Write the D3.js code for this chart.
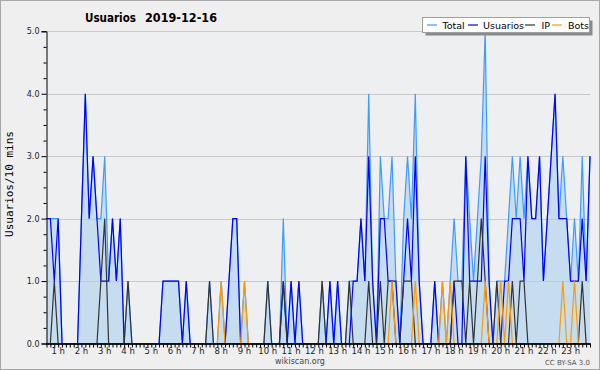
<!DOCTYPE html>
<html><head><meta charset="utf-8">
<script src="https://cdn.jsdelivr.net/npm/d3@7/dist/d3.min.js"></script>
<style>body{margin:0;background:#efefef;overflow:hidden}</style>
</head><body>
<svg id="c" width="600" height="370"></svg>
<script>
// 10-minute slots, 00:30 .. 23:50 (minutes of the day)
const minutes = d3.range(30, 1431, 10);

const total = [2,2,2,2,0,0,0,0,0,2, 4,2,3,2,2,3,1,2,1,2, 0,1,0,0,0,0,0,0,0,0,
  1,1,1,1,1,0,1,0,0,0, 0,0,1,0,0,1,0,1,2,2, 0,1,0,0,0,0,0,1,0,0,
  0,2,0,1,0,1,0,0,0,0, 0,1,0,1,0,1,0,0,1,1, 1,2,1,4,1,0,3,2,2,3,
  1,0,2,3,2,4,1,0,0,0, 1,0,1,0,1,2,1,1,3,2, 1,2,3,5,1,0,1,1,1,2,
  3,2,3,2,3,2,2,3,1,2, 3,4,2,3,2,1,2,1,3,1, 3];
const usuarios = [2,2,1,2,0,0,0,0,0,2, 4,2,3,2,1,1,1,2,1,2, 0,0,0,0,0,0,0,0,0,0,
  1,1,1,1,1,0,1,0,0,0, 0,0,0,0,0,0,0,1,2,2, 0,0,0,0,0,0,0,0,0,0,
  0,1,0,1,0,1,0,0,0,0, 0,0,0,1,0,1,0,0,0,1, 1,2,1,3,1,0,2,2,1,1,
  1,0,1,2,1,3,1,0,0,0, 1,0,0,0,0,1,0,0,3,1, 1,1,1,3,1,0,0,0,1,1,
  2,2,2,1,3,2,2,3,1,2, 3,4,2,2,2,1,1,1,2,1, 3];
const ip = [0,0,1,0,0,0,0,0,0,0, 0,0,0,0,1,2,0,0,0,0, 0,1,0,0,0,0,0,0,0,0,
  0,0,0,0,0,0,0,0,0,0, 0,0,1,0,0,0,0,0,0,0, 0,0,0,0,0,0,0,1,0,0,
  0,1,0,0,0,0,0,0,0,0, 0,1,0,0,0,0,0,0,1,0, 0,0,0,1,0,0,1,0,1,1,
  0,0,1,1,1,0,0,0,0,0, 0,0,0,0,0,1,1,1,0,1, 0,1,2,1,0,0,1,0,0,0,
  1,0,1,1,0,0,0,0,0,0, 0,0,0,0,0,0,0,0,1,0, 0];
const bots = [0,0,0,0,0,0,0,0,0,0, 0,0,0,0,0,0,0,0,0,0, 0,0,0,0,0,0,0,0,0,0,
  0,0,0,0,0,0,0,0,0,0, 0,0,0,0,0,1,0,0,0,0, 0,1,0,0,0,0,0,0,0,0,
  0,0,0,0,0,0,0,0,0,0, 0,0,0,0,0,0,0,0,0,0, 0,0,0,0,0,0,0,0,0,1,
  0,0,0,0,0,1,0,0,0,0, 0,0,1,0,1,0,0,0,0,0, 0,0,0,1,0,0,0,1,0,1,
  0,0,0,0,0,0,0,0,0,0, 0,0,0,1,0,0,1,0,0,0, 0];

const hourTicks = [60,120,180,240,300,360,420,480,540,600,660,720,780,840,900,960,1020,1080,1140,1200,1260,1320,1380];
const hourLabels = ["1 h","2 h","3 h","4 h","5 h","6 h","7 h","8 h","9 h","10 h","11 h","12 h","13 h","14 h","15 h","16 h","17 h","18 h","19 h","20 h","21 h","22 h","23 h"];
const yTicks = [0,1,2,3,4,5];
const seriesNames = ["Total","Usuarios","IP","Bots"];
const seriesColors = ["#3d9cff","#0000ff","#333333","#ff9900"];

const svg = d3.select("#c");
const x = d3.scaleLinear().domain([30, 1430]).range([46.5, 590]);
const y = d3.scaleLinear().domain([0, 5]).range([343.5, 31.3]);

svg.append("rect").attr("x",0.5).attr("y",0.5).attr("width",599).attr("height",369)
  .attr("fill","#efefef").attr("stroke","#a8a8a8");
svg.append("rect").attr("x",46.5).attr("y",31.3).attr("width",543.5).attr("height",312.2)
  .attr("fill","#eeeff1");

// area
const area = d3.area().x((d,i)=>x(minutes[i])).y0(y(0)).y1(d=>y(d));
svg.append("path").datum(total).attr("d", area).attr("fill","#c6ddf0");

// grid
svg.append("g").selectAll("line").data(yTicks.filter(v=>v>0)).join("line")
  .attr("x1",46.5).attr("x2",590).attr("y1",d=>Math.round(y(d))+0.5).attr("y2",d=>Math.round(y(d))+0.5)
  .attr("stroke","#c9c9c9").attr("stroke-width",1);

// lines
const line = d3.line().x((d,i)=>x(minutes[i])).y(d=>y(d));
[total, usuarios, ip, bots].forEach((s,j)=>{
  svg.append("path").datum(s).attr("d", line).attr("fill","none")
    .attr("stroke", seriesColors[j]).attr("stroke-width",1.2).attr("stroke-linejoin","miter");
});

// y axis
const yAxis = d3.axisLeft(y).tickValues(yTicks).tickFormat(d3.format(".1f")).tickSize(5).tickPadding(2);
const gy = svg.append("g").attr("transform","translate(46.5,0)").call(yAxis);
gy.select(".domain").attr("stroke","#000");
gy.selectAll("text").attr("font-family","DejaVu Sans").attr("font-size",8).attr("fill","#222");
const yMinor = d3.axisLeft(y).tickValues(d3.range(0,5.01,0.25).filter(v=>v%1!==0)).tickSize(3).tickFormat("");
const gym = svg.append("g").attr("transform","translate(46.5,0)").call(yMinor);
gym.select(".domain").remove();

// x axis ticks per slot
const xAxis = d3.axisBottom(x).tickValues(minutes).tickSize(4).tickFormat("");
const gx = svg.append("g").attr("transform","translate(0,343.5)").call(xAxis);
gx.select(".domain").attr("stroke","#000").attr("d","M46.5,0.5H590.5");
svg.append("line").attr("x1",46).attr("x2",590.5).attr("y1",344).attr("y2",344).attr("stroke","#000").attr("stroke-width",1.5);
svg.append("g").selectAll("text").data(hourTicks).join("text")
  .attr("x",d=>x(d)).attr("y",354).attr("text-anchor","middle")
  .attr("font-family","DejaVu Sans").attr("font-size",8.5).attr("fill","#222")
  .text((d,i)=>hourLabels[i]);

// y label
svg.append("text").attr("transform","translate(13,184) rotate(-90)").attr("text-anchor","middle")
  .attr("font-family","DejaVu Sans Mono").attr("font-size",11).attr("fill","#000").text("Usuarios/10 mins");

// title
svg.append("text").attr("x",85).attr("y",21.5).attr("font-family","DejaVu Sans").attr("font-weight","bold")
  .attr("font-size",12).attr("fill","#000").attr("textLength",51).attr("lengthAdjust","spacingAndGlyphs").text("Usuarios");
svg.append("text").attr("x",145).attr("y",21.5).attr("font-family","DejaVu Sans").attr("font-weight","bold")
  .attr("font-size",12).attr("fill","#000").attr("textLength",72).attr("lengthAdjust","spacingAndGlyphs").text("2019-12-16");

// legend
const lg = svg.append("g");
lg.append("rect").attr("x",425.5).attr("y",20.5).attr("width",167).attr("height",15).attr("fill","#8a8a8a");
lg.append("rect").attr("x",422.5).attr("y",17.5).attr("width",167).attr("height",15).attr("fill","#fff").attr("stroke","#a0a0a0");
const legX = [427, 468, 525, 552];
const legT = [442.5, 483, 541.5, 568];
seriesNames.forEach((n,j)=>{
  lg.append("line").attr("x1",legX[j]).attr("x2",legX[j]+10).attr("y1",25).attr("y2",25)
    .attr("stroke",seriesColors[j]).attr("stroke-width",1.2);
  lg.append("text").attr("x",legT[j]).attr("y",28.5).attr("font-family","DejaVu Sans").attr("font-size",9.5)
    .attr("fill","#000").text(n);
});

// footer
svg.append("text").attr("x",300).attr("y",364).attr("text-anchor","middle").attr("font-family","DejaVu Sans")
  .attr("font-size",8).attr("fill","#444").text("wikiscan.org");
svg.append("text").attr("x",590).attr("y",365).attr("text-anchor","end").attr("font-family","DejaVu Sans")
  .attr("font-size",7).attr("fill","#555").text("CC BY-SA 3.0");
</script>
</body></html>
